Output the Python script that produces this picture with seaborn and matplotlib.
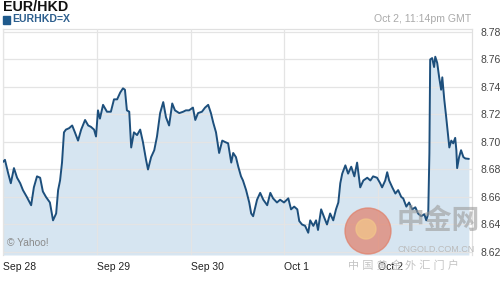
import matplotlib
matplotlib.use("Agg")
import matplotlib.pyplot as plt
import seaborn as sns
import pandas as pd
from matplotlib.patches import Ellipse

# Hours since Sep 28 00:00 GMT
hours = [0.0, 0.5, 1.3, 2.0, 2.8, 3.6, 4.4, 5.1, 6.1, 7.2, 7.9, 8.7, 9.5, 10.2, 11.0,
         12.0, 12.8, 13.6, 14.1, 14.6, 15.1, 15.6, 16.1, 16.9, 17.7, 18.4, 19.2, 20.0,
         21.0, 21.8, 22.5, 23.3, 23.8, 24.3, 24.8, 25.6, 26.6, 27.6, 28.4, 29.2, 30.0,
         30.7, 31.2, 31.7, 32.3, 32.8, 33.5, 34.3, 35.1, 35.8, 36.6, 37.1, 37.9, 38.7,
         39.4, 40.2, 41.0, 41.7, 42.5, 43.3, 44.0, 45.1, 46.1, 46.8, 47.6, 48.6, 49.2,
         49.9, 50.9, 51.7, 52.5, 53.2, 53.8, 54.5, 55.3, 56.1, 56.8, 57.6, 58.4, 58.9,
         59.6, 60.2, 60.9, 61.4, 62.2, 63.0, 63.5, 64.0, 65.0, 65.8, 66.6, 67.6, 68.4,
         69.1, 70.1, 70.9, 71.9, 73.0, 73.7, 74.5, 75.3, 75.8, 76.5, 77.3, 78.1, 78.6,
         79.4, 80.1, 80.6, 81.4, 82.2, 82.9, 83.7, 84.5, 85.2, 85.8, 86.3, 86.8, 87.6,
         88.3, 89.1, 89.9, 90.6, 91.4, 92.2, 93.2, 94.0, 94.7, 95.7, 96.5, 97.0, 97.8,
         98.3, 98.8, 99.6, 100.4, 101.1, 101.9, 102.4, 103.2, 103.9, 104.7, 105.5, 106.2,
         107.0, 107.8, 108.3, 108.8, 109.1, 109.3, 109.8, 110.3, 110.6, 111.1, 111.6,
         112.1, 112.4, 112.9, 113.4, 113.9, 114.2, 114.7, 115.2, 115.7, 116.0, 116.2,
         116.7, 117.2, 117.8, 118.3, 119.2]
rate = [8.6855, 8.687, 8.6775, 8.670, 8.681, 8.674, 8.670, 8.665, 8.660, 8.654, 8.667,
        8.675, 8.674, 8.664, 8.660, 8.656, 8.643, 8.648, 8.665, 8.672, 8.685, 8.707,
        8.709, 8.710, 8.712, 8.707, 8.701, 8.709, 8.716, 8.712, 8.711, 8.709, 8.704,
        8.723, 8.717, 8.727, 8.722, 8.722, 8.731, 8.731, 8.736, 8.739, 8.738, 8.723,
        8.722, 8.696, 8.707, 8.705, 8.709, 8.700, 8.687, 8.680, 8.689, 8.694, 8.704,
        8.721, 8.729, 8.718, 8.712, 8.728, 8.723, 8.721, 8.722, 8.723, 8.723, 8.725,
        8.716, 8.721, 8.722, 8.725, 8.727, 8.721, 8.714, 8.707, 8.692, 8.701, 8.700,
        8.699, 8.685, 8.692, 8.689, 8.682, 8.675, 8.672, 8.665, 8.656, 8.648, 8.646,
        8.658, 8.663, 8.658, 8.654, 8.663, 8.659, 8.656, 8.658, 8.656, 8.659, 8.651,
        8.653, 8.651, 8.6425, 8.640, 8.639, 8.634, 8.643, 8.639, 8.643, 8.636, 8.651,
        8.645, 8.640, 8.648, 8.643, 8.651, 8.656, 8.670, 8.677, 8.683, 8.677, 8.682,
        8.675, 8.685, 8.667, 8.672, 8.674, 8.672, 8.675, 8.674, 8.670, 8.667, 8.672,
        8.678, 8.672, 8.667, 8.6625, 8.665, 8.660, 8.659, 8.653, 8.656, 8.651, 8.6525,
        8.648, 8.646, 8.6475, 8.643, 8.648, 8.692, 8.760, 8.761, 8.7545, 8.762, 8.7575,
        8.747, 8.738, 8.747, 8.731, 8.718, 8.704, 8.696, 8.701, 8.699, 8.703, 8.694,
        8.681, 8.689, 8.694, 8.689, 8.688, 8.6877]

day_pos = [0, 24, 48, 72, 96]
day_labels = ["Sep 28", "Sep 29", "Sep 30", "Oct 1", "Oct 2"]
y_ticks = [8.62, 8.64, 8.66, 8.68, 8.70, 8.72, 8.74, 8.76, 8.78]

title = "EUR/HKD"
symbol = "EURHKD=X"
stamp = "Oct 2, 11:14pm GMT"

df = pd.DataFrame({"hours": hours, "rate": rate})

sns.set_style("white")
plt.rcParams["font.family"] = ["Liberation Sans", "Noto Sans CJK SC", "DejaVu Sans"]

fig = plt.figure(figsize=(5.0, 2.81), dpi=100)
ax = fig.add_axes([0.006, 0.0925, 0.938, 0.8045])

ymin, ymax = 8.6178, 8.7822
ax.fill_between(df["hours"], df["rate"], ymin, color="#d6e5f1", zorder=1, lw=0)
sns.lineplot(data=df, x="hours", y="rate", ax=ax, color="#1d4f7c", linewidth=1.4, zorder=3)

ax.set_xlim(0, 120)
ax.set_ylim(ymin, ymax)
ax.set_xlabel("")
ax.set_ylabel("")

ax.yaxis.tick_right()
ax.set_yticks(y_ticks)
ax.set_yticklabels([f"{v:.2f}" for v in y_ticks], fontsize=7.5, color="#444444")
ax.set_xticks(day_pos)
ax.set_xticklabels(day_labels, fontsize=7.5, color="#222222", ha="left")
ax.tick_params(axis="both", length=0)
ax.tick_params(axis="y", pad=6)
ax.tick_params(axis="x", pad=5)

ax.grid(True, color="#e4e4e4", linewidth=0.9, zorder=2)
ax.set_axisbelow(False)
for s in ["top", "left", "right"]:
    ax.spines[s].set_color("#e0e0e0")
    ax.spines[s].set_linewidth(0.9)
ax.spines["bottom"].set_visible(False)

# header
fig.text(0.006, 0.975, title, fontsize=10.3, fontweight="bold", color="#111111", va="center")
fig.patches.append(plt.Rectangle((0.006, 0.915), 0.013, 0.028, transform=fig.transFigure,
                                 color="#1f5a8c"))
fig.text(0.024, 0.931, symbol, fontsize=7.6, fontweight="bold", color="#2d5f8e", va="center")
fig.text(0.942, 0.933, stamp, fontsize=7.6, color="#aaaaaa", va="center", ha="right")

ax.text(0.009, 0.055, "© Yahoo!", transform=ax.transAxes, fontsize=7.4, color="#8a8a8a",
        va="center", zorder=5)

# watermark
fig.patches.append(Ellipse((368 / 500, 1 - 231 / 281), 46 / 500, 46 / 281,
                           transform=fig.transFigure, color="#e07e68", alpha=0.7, zorder=10))
fig.patches.append(Ellipse((366 / 500, 1 - 229 / 281), 20 / 500, 20 / 281,
                           transform=fig.transFigure, color="#f2c58a", alpha=0.75, zorder=11))
fig.text(397 / 500, 1 - 222 / 281, "中金网", fontsize=20, color="#9a9a9a", alpha=0.6,
         va="center", ha="left", fontweight="bold", zorder=12)
fig.text(397 / 500, 1 - 250 / 281, "CNGOLD.COM.CN", fontsize=6.5, color="#bbbbbb",
         va="center", ha="left", zorder=12)
fig.text(348 / 500, 1 - 266 / 281, "中 国 黄 金 外 汇 门 户", fontsize=8, color="#c4c4c4",
         va="center", ha="left", zorder=12)

fig.savefig("out.png", dpi=100)
